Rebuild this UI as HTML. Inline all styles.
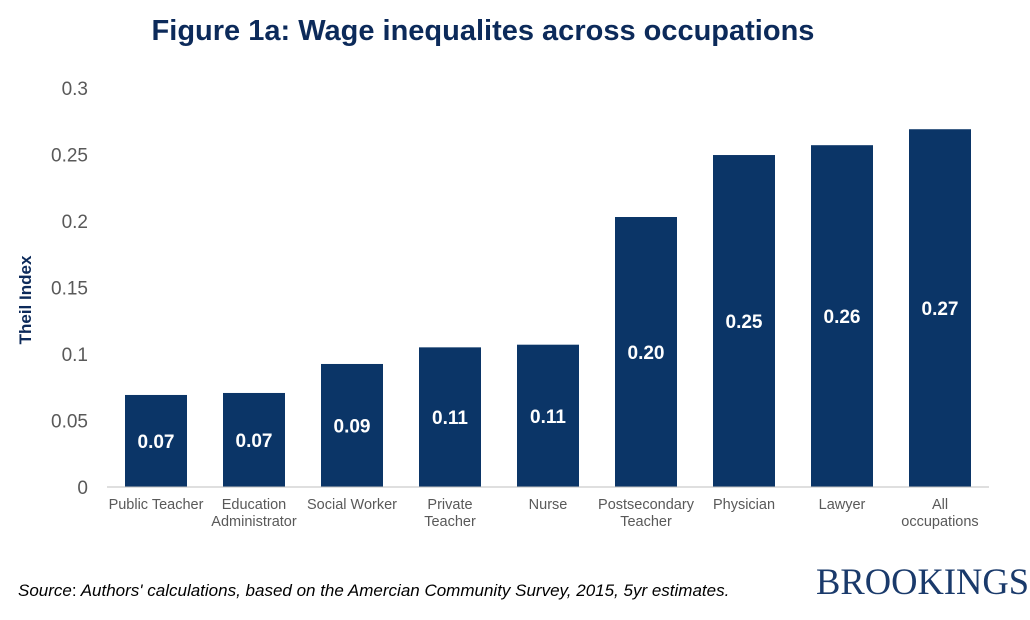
<!DOCTYPE html>
<html><head><meta charset="utf-8"><style>
body{margin:0;background:#fff;}
svg{display:block;font-family:"Liberation Sans",sans-serif;}
</style></head><body>
<svg id="chart" width="1030" height="620">
<text x="483" y="40" text-anchor="middle" font-size="29" font-weight="bold" fill="#0c2a5a">Figure 1a: Wage inequalites across occupations</text>
<text transform="translate(31,300) rotate(-90)" text-anchor="middle" font-size="17" font-weight="bold" fill="#0c2a5a">Theil Index</text>
<g id="yticks"></g><g id="bars"></g><g id="xlabels"></g>
<line x1="107" y1="487" x2="989" y2="487" stroke="#bfbfbf" stroke-width="1"/>
<text x="18" y="596" font-size="17" font-style="italic" fill="#000">Source<tspan font-style="normal">:</tspan> Authors' calculations, based on the Amercian Community Survey, 2015, 5yr estimates.</text>
<text x="1029" y="594" text-anchor="end" font-family="Liberation Serif,serif" font-size="36.5" fill="#1a3a6b">BROOKINGS</text>
</svg>
<script>
const categories=[["Public Teacher"],["Education","Administrator"],["Social Worker"],["Private","Teacher"],["Nurse"],["Postsecondary","Teacher"],["Physician"],["Lawyer"],["All","occupations"]];
const values=[0.0692,0.0707,0.0925,0.105,0.107,0.203,0.2496,0.257,0.269];
const valueLabels=["0.07","0.07","0.09","0.11","0.11","0.20","0.25","0.26","0.27"];
const tickValues=[0,0.05,0.1,0.15,0.2,0.25,0.3];
const tickLabels=["0","0.05","0.1","0.15","0.2","0.25","0.3"];
const NS="http://www.w3.org/2000/svg";
const y=v=>487-v/0.3*399;
const x=i=>156+i*98;
function mk(t,a,p){const e=document.createElementNS(NS,t);for(const k in a)e.setAttribute(k,a[k]);p.appendChild(e);return e;}
const yt=document.getElementById('yticks');
tickValues.forEach((v,i)=>{const t=mk('text',{x:88,y:y(v)+7,'text-anchor':'end','font-size':19,fill:'#595959'},yt);t.textContent=tickLabels[i];

});
const bg=document.getElementById('bars');
values.forEach((v,i)=>{const r=mk('rect',{x:x(i)-31,y:y(v),width:62,height:487-y(v),fill:'#0b3567'},bg);


const t=mk('text',{x:x(i),y:(y(v)+487)/2+7,'text-anchor':'middle','font-size':19,'font-weight':'bold',fill:'#fff'},bg);t.textContent=valueLabels[i];

});
const xl=document.getElementById('xlabels');
categories.forEach((c,i)=>{c.forEach((s,j)=>{const t=mk('text',{x:x(i),y:509+j*17,'text-anchor':'middle','font-size':14.5,fill:'#595959'},xl);t.textContent=s;

});});
</script>
</body></html>
